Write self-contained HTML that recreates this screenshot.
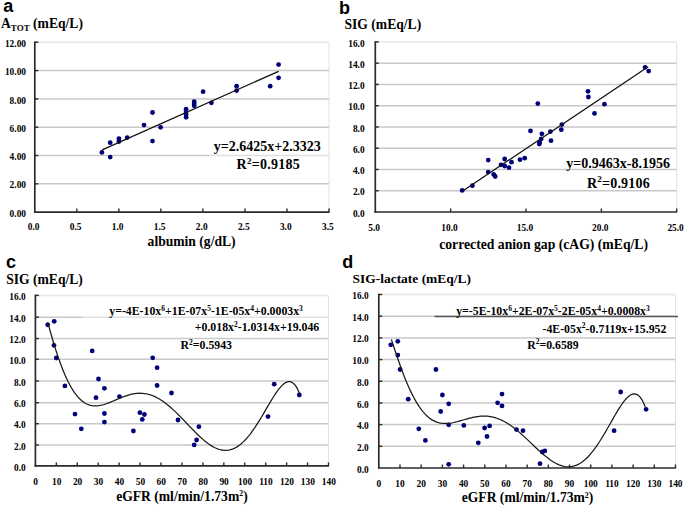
<!DOCTYPE html>
<html><head><meta charset="utf-8"><style>
html,body{margin:0;padding:0;background:#fff;width:685px;height:506px;overflow:hidden;}
svg{display:block;}
</style></head><body>
<svg width="685" height="506" viewBox="0 0 685 506">
<rect width="685" height="506" fill="#fff"/>
<line x1="329" y1="42.3" x2="329" y2="212.1" stroke="#e2e2e2" stroke-width="1"/>
<line x1="34.8" y1="183.8" x2="329" y2="183.8" stroke="#c9c9c9" stroke-width="1.5"/>
<line x1="34.8" y1="155.5" x2="209" y2="155.5" stroke="#c9c9c9" stroke-width="1.5"/>
<line x1="209" y1="155.5" x2="329" y2="155.5" stroke="#e0e0e0" stroke-width="1.5"/>
<line x1="34.8" y1="127.2" x2="329" y2="127.2" stroke="#c9c9c9" stroke-width="1.5"/>
<line x1="34.8" y1="98.9" x2="329" y2="98.9" stroke="#c9c9c9" stroke-width="1.5"/>
<line x1="34.8" y1="70.6" x2="329" y2="70.6" stroke="#c9c9c9" stroke-width="1.5"/>
<line x1="34.8" y1="42.3" x2="329" y2="42.3" stroke="#e6e6e6" stroke-width="1.5"/>
<line x1="34.8" y1="41.5" x2="34.8" y2="212.9" stroke="#2b2b2b" stroke-width="1.7"/>
<line x1="34.0" y1="212.1" x2="329.5" y2="212.1" stroke="#2b2b2b" stroke-width="1.7"/>
<line x1="34.8" y1="183.8" x2="38.3" y2="183.8" stroke="#2b2b2b" stroke-width="1.4"/>
<line x1="34.8" y1="155.5" x2="38.3" y2="155.5" stroke="#2b2b2b" stroke-width="1.4"/>
<line x1="34.8" y1="127.2" x2="38.3" y2="127.2" stroke="#2b2b2b" stroke-width="1.4"/>
<line x1="34.8" y1="98.9" x2="38.3" y2="98.9" stroke="#2b2b2b" stroke-width="1.4"/>
<line x1="34.8" y1="70.6" x2="38.3" y2="70.6" stroke="#2b2b2b" stroke-width="1.4"/>
<line x1="34.8" y1="42.3" x2="38.3" y2="42.3" stroke="#2b2b2b" stroke-width="1.4"/>
<line x1="76.83" y1="212.1" x2="76.83" y2="208.6" stroke="#2b2b2b" stroke-width="1.4"/>
<line x1="118.86" y1="212.1" x2="118.86" y2="208.6" stroke="#2b2b2b" stroke-width="1.4"/>
<line x1="160.89" y1="212.1" x2="160.89" y2="208.6" stroke="#2b2b2b" stroke-width="1.4"/>
<line x1="202.91" y1="212.1" x2="202.91" y2="208.6" stroke="#2b2b2b" stroke-width="1.4"/>
<line x1="244.94" y1="212.1" x2="244.94" y2="208.6" stroke="#2b2b2b" stroke-width="1.4"/>
<line x1="286.97" y1="212.1" x2="286.97" y2="208.6" stroke="#2b2b2b" stroke-width="1.4"/>
<line x1="329.0" y1="212.1" x2="329.0" y2="208.6" stroke="#2b2b2b" stroke-width="1.4"/>
<text x="26" y="216.7" font-size="9.4" text-anchor="end" font-family="'Liberation Serif', serif" font-weight="bold" fill="#000" >0.00</text>
<text x="26" y="188.4" font-size="9.4" text-anchor="end" font-family="'Liberation Serif', serif" font-weight="bold" fill="#000" >2.00</text>
<text x="26" y="160.1" font-size="9.4" text-anchor="end" font-family="'Liberation Serif', serif" font-weight="bold" fill="#000" >4.00</text>
<text x="26" y="131.8" font-size="9.4" text-anchor="end" font-family="'Liberation Serif', serif" font-weight="bold" fill="#000" >6.00</text>
<text x="26" y="103.5" font-size="9.4" text-anchor="end" font-family="'Liberation Serif', serif" font-weight="bold" fill="#000" >8.00</text>
<text x="26" y="75.2" font-size="9.4" text-anchor="end" font-family="'Liberation Serif', serif" font-weight="bold" fill="#000" >10.00</text>
<text x="26" y="46.9" font-size="9.4" text-anchor="end" font-family="'Liberation Serif', serif" font-weight="bold" fill="#000" >12.00</text>
<text x="33.6" y="229.8" font-size="9.4" text-anchor="middle" font-family="'Liberation Serif', serif" font-weight="bold" fill="#000" >0.0</text>
<text x="75.63" y="229.8" font-size="9.4" text-anchor="middle" font-family="'Liberation Serif', serif" font-weight="bold" fill="#000" >0.5</text>
<text x="117.66" y="229.8" font-size="9.4" text-anchor="middle" font-family="'Liberation Serif', serif" font-weight="bold" fill="#000" >1.0</text>
<text x="159.69" y="229.8" font-size="9.4" text-anchor="middle" font-family="'Liberation Serif', serif" font-weight="bold" fill="#000" >1.5</text>
<text x="201.71" y="229.8" font-size="9.4" text-anchor="middle" font-family="'Liberation Serif', serif" font-weight="bold" fill="#000" >2.0</text>
<text x="243.74" y="229.8" font-size="9.4" text-anchor="middle" font-family="'Liberation Serif', serif" font-weight="bold" fill="#000" >2.5</text>
<text x="285.77" y="229.8" font-size="9.4" text-anchor="middle" font-family="'Liberation Serif', serif" font-weight="bold" fill="#000" >3.0</text>
<text x="327.8" y="229.8" font-size="9.4" text-anchor="middle" font-family="'Liberation Serif', serif" font-weight="bold" fill="#000" >3.5</text>
<circle cx="101.9" cy="152.4" r="2.4" fill="#00007a"/>
<circle cx="110.2" cy="157.1" r="2.4" fill="#00007a"/>
<circle cx="110.2" cy="142.7" r="2.4" fill="#00007a"/>
<circle cx="118.9" cy="138.6" r="2.4" fill="#00007a"/>
<circle cx="118.9" cy="141.5" r="2.4" fill="#00007a"/>
<circle cx="127.2" cy="137.6" r="2.4" fill="#00007a"/>
<circle cx="144" cy="125.1" r="2.4" fill="#00007a"/>
<circle cx="152.5" cy="112.5" r="2.4" fill="#00007a"/>
<circle cx="152.5" cy="141.1" r="2.4" fill="#00007a"/>
<circle cx="160.6" cy="127.3" r="2.4" fill="#00007a"/>
<circle cx="186.1" cy="109.2" r="2.4" fill="#00007a"/>
<circle cx="186.1" cy="112" r="2.4" fill="#00007a"/>
<circle cx="186.1" cy="114.5" r="2.4" fill="#00007a"/>
<circle cx="186.1" cy="117.3" r="2.4" fill="#00007a"/>
<circle cx="194.2" cy="101.7" r="2.4" fill="#00007a"/>
<circle cx="194.2" cy="103.8" r="2.4" fill="#00007a"/>
<circle cx="194.2" cy="105.8" r="2.4" fill="#00007a"/>
<circle cx="203.1" cy="91.7" r="2.4" fill="#00007a"/>
<circle cx="211.4" cy="102.8" r="2.4" fill="#00007a"/>
<circle cx="236.6" cy="86.2" r="2.4" fill="#00007a"/>
<circle cx="236.6" cy="90.6" r="2.4" fill="#00007a"/>
<circle cx="270.2" cy="86.2" r="2.4" fill="#00007a"/>
<circle cx="278.6" cy="64.6" r="2.4" fill="#00007a"/>
<circle cx="278.6" cy="77.8" r="2.4" fill="#00007a"/>
<line x1="102.2" y1="149.8" x2="278.6" y2="71.3" stroke="#111" stroke-width="1.3"/>
<line x1="676.7" y1="41.9" x2="676.7" y2="212.0" stroke="#e2e2e2" stroke-width="1"/>
<line x1="375.3" y1="190.74" x2="676.7" y2="190.74" stroke="#c9c9c9" stroke-width="1.5"/>
<line x1="375.3" y1="169.47" x2="676.7" y2="169.47" stroke="#c9c9c9" stroke-width="1.5"/>
<line x1="375.3" y1="148.21" x2="676.7" y2="148.21" stroke="#c9c9c9" stroke-width="1.5"/>
<line x1="375.3" y1="126.95" x2="676.7" y2="126.95" stroke="#c9c9c9" stroke-width="1.5"/>
<line x1="375.3" y1="105.69" x2="676.7" y2="105.69" stroke="#c9c9c9" stroke-width="1.5"/>
<line x1="375.3" y1="84.43" x2="676.7" y2="84.43" stroke="#c9c9c9" stroke-width="1.5"/>
<line x1="375.3" y1="63.16" x2="676.7" y2="63.16" stroke="#c9c9c9" stroke-width="1.5"/>
<line x1="375.3" y1="41.9" x2="676.7" y2="41.9" stroke="#e6e6e6" stroke-width="1.5"/>
<line x1="375.3" y1="41.1" x2="375.3" y2="212.8" stroke="#2b2b2b" stroke-width="1.7"/>
<line x1="374.5" y1="212.0" x2="677.2" y2="212.0" stroke="#2b2b2b" stroke-width="1.7"/>
<line x1="375.3" y1="190.74" x2="378.8" y2="190.74" stroke="#2b2b2b" stroke-width="1.4"/>
<line x1="375.3" y1="169.47" x2="378.8" y2="169.47" stroke="#2b2b2b" stroke-width="1.4"/>
<line x1="375.3" y1="148.21" x2="378.8" y2="148.21" stroke="#2b2b2b" stroke-width="1.4"/>
<line x1="375.3" y1="126.95" x2="378.8" y2="126.95" stroke="#2b2b2b" stroke-width="1.4"/>
<line x1="375.3" y1="105.69" x2="378.8" y2="105.69" stroke="#2b2b2b" stroke-width="1.4"/>
<line x1="375.3" y1="84.43" x2="378.8" y2="84.43" stroke="#2b2b2b" stroke-width="1.4"/>
<line x1="375.3" y1="63.16" x2="378.8" y2="63.16" stroke="#2b2b2b" stroke-width="1.4"/>
<line x1="375.3" y1="41.9" x2="378.8" y2="41.9" stroke="#2b2b2b" stroke-width="1.4"/>
<line x1="450.65" y1="212.0" x2="450.65" y2="208.5" stroke="#2b2b2b" stroke-width="1.4"/>
<line x1="526.0" y1="212.0" x2="526.0" y2="208.5" stroke="#2b2b2b" stroke-width="1.4"/>
<line x1="601.35" y1="212.0" x2="601.35" y2="208.5" stroke="#2b2b2b" stroke-width="1.4"/>
<line x1="676.7" y1="212.0" x2="676.7" y2="208.5" stroke="#2b2b2b" stroke-width="1.4"/>
<text x="364.6" y="216.6" font-size="9.4" text-anchor="end" font-family="'Liberation Serif', serif" font-weight="bold" fill="#000" >0.0</text>
<text x="364.6" y="195.34" font-size="9.4" text-anchor="end" font-family="'Liberation Serif', serif" font-weight="bold" fill="#000" >2.0</text>
<text x="364.6" y="174.07" font-size="9.4" text-anchor="end" font-family="'Liberation Serif', serif" font-weight="bold" fill="#000" >4.0</text>
<text x="364.6" y="152.81" font-size="9.4" text-anchor="end" font-family="'Liberation Serif', serif" font-weight="bold" fill="#000" >6.0</text>
<text x="364.6" y="131.55" font-size="9.4" text-anchor="end" font-family="'Liberation Serif', serif" font-weight="bold" fill="#000" >8.0</text>
<text x="364.6" y="110.29" font-size="9.4" text-anchor="end" font-family="'Liberation Serif', serif" font-weight="bold" fill="#000" >10.0</text>
<text x="364.6" y="89.03" font-size="9.4" text-anchor="end" font-family="'Liberation Serif', serif" font-weight="bold" fill="#000" >12.0</text>
<text x="364.6" y="67.76" font-size="9.4" text-anchor="end" font-family="'Liberation Serif', serif" font-weight="bold" fill="#000" >14.0</text>
<text x="364.6" y="46.5" font-size="9.4" text-anchor="end" font-family="'Liberation Serif', serif" font-weight="bold" fill="#000" >16.0</text>
<text x="374.2" y="231.3" font-size="9.4" text-anchor="middle" font-family="'Liberation Serif', serif" font-weight="bold" fill="#000" >5.0</text>
<text x="449.55" y="231.3" font-size="9.4" text-anchor="middle" font-family="'Liberation Serif', serif" font-weight="bold" fill="#000" >10.0</text>
<text x="524.9" y="231.3" font-size="9.4" text-anchor="middle" font-family="'Liberation Serif', serif" font-weight="bold" fill="#000" >15.0</text>
<text x="600.25" y="231.3" font-size="9.4" text-anchor="middle" font-family="'Liberation Serif', serif" font-weight="bold" fill="#000" >20.0</text>
<text x="675.6" y="231.3" font-size="9.4" text-anchor="middle" font-family="'Liberation Serif', serif" font-weight="bold" fill="#000" >25.0</text>
<circle cx="462.2" cy="190.4" r="2.4" fill="#00007a"/>
<circle cx="472.4" cy="185.7" r="2.4" fill="#00007a"/>
<circle cx="488.2" cy="160.1" r="2.4" fill="#00007a"/>
<circle cx="488.2" cy="172.1" r="2.4" fill="#00007a"/>
<circle cx="493.7" cy="174.3" r="2.4" fill="#00007a"/>
<circle cx="495.2" cy="176.5" r="2.4" fill="#00007a"/>
<circle cx="501" cy="164.8" r="2.4" fill="#00007a"/>
<circle cx="504.7" cy="159" r="2.4" fill="#00007a"/>
<circle cx="504.7" cy="166" r="2.4" fill="#00007a"/>
<circle cx="509" cy="167.7" r="2.4" fill="#00007a"/>
<circle cx="511.5" cy="162.2" r="2.4" fill="#00007a"/>
<circle cx="520" cy="159.7" r="2.4" fill="#00007a"/>
<circle cx="524.7" cy="158.2" r="2.4" fill="#00007a"/>
<circle cx="537.8" cy="103.6" r="2.4" fill="#00007a"/>
<circle cx="530.5" cy="130.9" r="2.4" fill="#00007a"/>
<circle cx="541.9" cy="133.8" r="2.4" fill="#00007a"/>
<circle cx="541.2" cy="138.9" r="2.4" fill="#00007a"/>
<circle cx="539.7" cy="142.6" r="2.4" fill="#00007a"/>
<circle cx="539.3" cy="144" r="2.4" fill="#00007a"/>
<circle cx="550.4" cy="131.6" r="2.4" fill="#00007a"/>
<circle cx="551" cy="140.7" r="2.4" fill="#00007a"/>
<circle cx="561.9" cy="124.6" r="2.4" fill="#00007a"/>
<circle cx="561.3" cy="129.7" r="2.4" fill="#00007a"/>
<circle cx="588" cy="91.3" r="2.4" fill="#00007a"/>
<circle cx="588.4" cy="97" r="2.4" fill="#00007a"/>
<circle cx="604.4" cy="104.2" r="2.4" fill="#00007a"/>
<circle cx="594.5" cy="113.4" r="2.4" fill="#00007a"/>
<circle cx="645.1" cy="67.3" r="2.4" fill="#00007a"/>
<circle cx="648.7" cy="71.1" r="2.4" fill="#00007a"/>
<line x1="462.7" y1="191.0" x2="648.2" y2="66.8" stroke="#111" stroke-width="1.3"/>
<line x1="328.5" y1="295.4" x2="328.5" y2="465.9" stroke="#e2e2e2" stroke-width="1"/>
<line x1="35.4" y1="445.05" x2="328.5" y2="445.05" stroke="#c9c9c9" stroke-width="1.5"/>
<line x1="35.4" y1="423.7" x2="328.5" y2="423.7" stroke="#c9c9c9" stroke-width="1.5"/>
<line x1="35.4" y1="402.7" x2="328.5" y2="402.7" stroke="#c9c9c9" stroke-width="1.5"/>
<line x1="35.4" y1="381.0" x2="328.5" y2="381.0" stroke="#c9c9c9" stroke-width="1.5"/>
<line x1="35.4" y1="359.25" x2="328.5" y2="359.25" stroke="#c9c9c9" stroke-width="1.5"/>
<line x1="35.4" y1="338.55" x2="328.5" y2="338.55" stroke="#c9c9c9" stroke-width="1.5"/>
<line x1="35.4" y1="317.2" x2="82.8" y2="317.2" stroke="#c9c9c9" stroke-width="1.5"/>
<line x1="82.8" y1="317.2" x2="328.5" y2="317.2" stroke="#e0e0e0" stroke-width="1.5"/>
<line x1="35.4" y1="295.4" x2="328.5" y2="295.4" stroke="#e6e6e6" stroke-width="1.5"/>
<line x1="35.4" y1="294.6" x2="35.4" y2="466.7" stroke="#2b2b2b" stroke-width="1.7"/>
<line x1="34.6" y1="465.9" x2="329.0" y2="465.9" stroke="#2b2b2b" stroke-width="1.7"/>
<line x1="35.4" y1="445.05" x2="38.9" y2="445.05" stroke="#2b2b2b" stroke-width="1.4"/>
<line x1="35.4" y1="423.7" x2="38.9" y2="423.7" stroke="#2b2b2b" stroke-width="1.4"/>
<line x1="35.4" y1="402.7" x2="38.9" y2="402.7" stroke="#2b2b2b" stroke-width="1.4"/>
<line x1="35.4" y1="381.0" x2="38.9" y2="381.0" stroke="#2b2b2b" stroke-width="1.4"/>
<line x1="35.4" y1="359.25" x2="38.9" y2="359.25" stroke="#2b2b2b" stroke-width="1.4"/>
<line x1="35.4" y1="338.55" x2="38.9" y2="338.55" stroke="#2b2b2b" stroke-width="1.4"/>
<line x1="35.4" y1="317.2" x2="38.9" y2="317.2" stroke="#2b2b2b" stroke-width="1.4"/>
<line x1="35.4" y1="295.4" x2="38.9" y2="295.4" stroke="#2b2b2b" stroke-width="1.4"/>
<line x1="56.34" y1="465.9" x2="56.34" y2="462.4" stroke="#2b2b2b" stroke-width="1.4"/>
<line x1="77.27" y1="465.9" x2="77.27" y2="462.4" stroke="#2b2b2b" stroke-width="1.4"/>
<line x1="98.21" y1="465.9" x2="98.21" y2="462.4" stroke="#2b2b2b" stroke-width="1.4"/>
<line x1="119.14" y1="465.9" x2="119.14" y2="462.4" stroke="#2b2b2b" stroke-width="1.4"/>
<line x1="140.08" y1="465.9" x2="140.08" y2="462.4" stroke="#2b2b2b" stroke-width="1.4"/>
<line x1="161.01" y1="465.9" x2="161.01" y2="462.4" stroke="#2b2b2b" stroke-width="1.4"/>
<line x1="181.95" y1="465.9" x2="181.95" y2="462.4" stroke="#2b2b2b" stroke-width="1.4"/>
<line x1="202.89" y1="465.9" x2="202.89" y2="462.4" stroke="#2b2b2b" stroke-width="1.4"/>
<line x1="223.82" y1="465.9" x2="223.82" y2="462.4" stroke="#2b2b2b" stroke-width="1.4"/>
<line x1="244.76" y1="465.9" x2="244.76" y2="462.4" stroke="#2b2b2b" stroke-width="1.4"/>
<line x1="265.69" y1="465.9" x2="265.69" y2="462.4" stroke="#2b2b2b" stroke-width="1.4"/>
<line x1="286.63" y1="465.9" x2="286.63" y2="462.4" stroke="#2b2b2b" stroke-width="1.4"/>
<line x1="307.56" y1="465.9" x2="307.56" y2="462.4" stroke="#2b2b2b" stroke-width="1.4"/>
<line x1="328.5" y1="465.9" x2="328.5" y2="462.4" stroke="#2b2b2b" stroke-width="1.4"/>
<text x="25.7" y="470.5" font-size="9.4" text-anchor="end" font-family="'Liberation Serif', serif" font-weight="bold" fill="#000" >0.0</text>
<text x="25.7" y="449.65" font-size="9.4" text-anchor="end" font-family="'Liberation Serif', serif" font-weight="bold" fill="#000" >2.0</text>
<text x="25.7" y="428.3" font-size="9.4" text-anchor="end" font-family="'Liberation Serif', serif" font-weight="bold" fill="#000" >4.0</text>
<text x="25.7" y="407.3" font-size="9.4" text-anchor="end" font-family="'Liberation Serif', serif" font-weight="bold" fill="#000" >6.0</text>
<text x="25.7" y="385.6" font-size="9.4" text-anchor="end" font-family="'Liberation Serif', serif" font-weight="bold" fill="#000" >8.0</text>
<text x="25.7" y="363.85" font-size="9.4" text-anchor="end" font-family="'Liberation Serif', serif" font-weight="bold" fill="#000" >10.0</text>
<text x="25.7" y="343.15" font-size="9.4" text-anchor="end" font-family="'Liberation Serif', serif" font-weight="bold" fill="#000" >12.0</text>
<text x="25.7" y="321.8" font-size="9.4" text-anchor="end" font-family="'Liberation Serif', serif" font-weight="bold" fill="#000" >14.0</text>
<text x="25.7" y="300.0" font-size="9.4" text-anchor="end" font-family="'Liberation Serif', serif" font-weight="bold" fill="#000" >16.0</text>
<text x="35.7" y="484.8" font-size="9.4" text-anchor="middle" font-family="'Liberation Serif', serif" font-weight="bold" fill="#000" >0</text>
<text x="56.64" y="484.8" font-size="9.4" text-anchor="middle" font-family="'Liberation Serif', serif" font-weight="bold" fill="#000" >10</text>
<text x="77.57" y="484.8" font-size="9.4" text-anchor="middle" font-family="'Liberation Serif', serif" font-weight="bold" fill="#000" >20</text>
<text x="98.51" y="484.8" font-size="9.4" text-anchor="middle" font-family="'Liberation Serif', serif" font-weight="bold" fill="#000" >30</text>
<text x="119.44" y="484.8" font-size="9.4" text-anchor="middle" font-family="'Liberation Serif', serif" font-weight="bold" fill="#000" >40</text>
<text x="140.38" y="484.8" font-size="9.4" text-anchor="middle" font-family="'Liberation Serif', serif" font-weight="bold" fill="#000" >50</text>
<text x="161.31" y="484.8" font-size="9.4" text-anchor="middle" font-family="'Liberation Serif', serif" font-weight="bold" fill="#000" >60</text>
<text x="182.25" y="484.8" font-size="9.4" text-anchor="middle" font-family="'Liberation Serif', serif" font-weight="bold" fill="#000" >70</text>
<text x="203.19" y="484.8" font-size="9.4" text-anchor="middle" font-family="'Liberation Serif', serif" font-weight="bold" fill="#000" >80</text>
<text x="224.12" y="484.8" font-size="9.4" text-anchor="middle" font-family="'Liberation Serif', serif" font-weight="bold" fill="#000" >90</text>
<text x="245.06" y="484.8" font-size="9.4" text-anchor="middle" font-family="'Liberation Serif', serif" font-weight="bold" fill="#000" >100</text>
<text x="265.99" y="484.8" font-size="9.4" text-anchor="middle" font-family="'Liberation Serif', serif" font-weight="bold" fill="#000" >110</text>
<text x="286.93" y="484.8" font-size="9.4" text-anchor="middle" font-family="'Liberation Serif', serif" font-weight="bold" fill="#000" >120</text>
<text x="307.86" y="484.8" font-size="9.4" text-anchor="middle" font-family="'Liberation Serif', serif" font-weight="bold" fill="#000" >130</text>
<text x="328.8" y="484.8" font-size="9.4" text-anchor="middle" font-family="'Liberation Serif', serif" font-weight="bold" fill="#000" >140</text>
<circle cx="47.7" cy="324.8" r="2.4" fill="#00007a"/>
<circle cx="54.2" cy="321.3" r="2.4" fill="#00007a"/>
<circle cx="54" cy="345.3" r="2.4" fill="#00007a"/>
<circle cx="56.3" cy="358" r="2.4" fill="#00007a"/>
<circle cx="92.2" cy="350.9" r="2.4" fill="#00007a"/>
<circle cx="64.9" cy="385.9" r="2.4" fill="#00007a"/>
<circle cx="98.5" cy="379" r="2.4" fill="#00007a"/>
<circle cx="104.4" cy="388.3" r="2.4" fill="#00007a"/>
<circle cx="96" cy="397.7" r="2.4" fill="#00007a"/>
<circle cx="119.5" cy="396.6" r="2.4" fill="#00007a"/>
<circle cx="75" cy="414.1" r="2.4" fill="#00007a"/>
<circle cx="104.4" cy="413.5" r="2.4" fill="#00007a"/>
<circle cx="104.4" cy="422.1" r="2.4" fill="#00007a"/>
<circle cx="81.3" cy="428.8" r="2.4" fill="#00007a"/>
<circle cx="133.4" cy="431" r="2.4" fill="#00007a"/>
<circle cx="152.7" cy="357.8" r="2.4" fill="#00007a"/>
<circle cx="157.1" cy="367.7" r="2.4" fill="#00007a"/>
<circle cx="157.1" cy="385.5" r="2.4" fill="#00007a"/>
<circle cx="171.5" cy="393" r="2.4" fill="#00007a"/>
<circle cx="139.9" cy="412.7" r="2.4" fill="#00007a"/>
<circle cx="144.4" cy="414.5" r="2.4" fill="#00007a"/>
<circle cx="142.3" cy="419.4" r="2.4" fill="#00007a"/>
<circle cx="178" cy="420" r="2.4" fill="#00007a"/>
<circle cx="198.9" cy="426.7" r="2.4" fill="#00007a"/>
<circle cx="196.6" cy="440" r="2.4" fill="#00007a"/>
<circle cx="194.2" cy="444.9" r="2.4" fill="#00007a"/>
<circle cx="268" cy="416.6" r="2.4" fill="#00007a"/>
<circle cx="274.2" cy="384.2" r="2.4" fill="#00007a"/>
<circle cx="299.3" cy="395" r="2.4" fill="#00007a"/>
<path d="M47.70,322.08 L49.28,327.86 L50.87,333.50 L52.45,338.97 L54.03,344.25 L55.62,349.33 L57.20,354.21 L58.79,358.88 L60.37,363.32 L61.95,367.53 L63.54,371.51 L65.12,375.25 L66.70,378.76 L68.29,382.03 L69.87,385.07 L71.45,387.87 L73.04,390.45 L74.62,392.80 L76.21,394.93 L77.79,396.85 L79.37,398.55 L80.96,400.06 L82.54,401.38 L84.12,402.50 L85.71,403.45 L87.29,404.23 L88.87,404.85 L90.46,405.32 L92.04,405.65 L93.63,405.84 L95.21,405.91 L96.79,405.87 L98.38,405.73 L99.96,405.48 L101.54,405.16 L103.13,404.76 L104.71,404.29 L106.29,403.77 L107.88,403.20 L109.46,402.59 L111.05,401.94 L112.63,401.28 L114.21,400.60 L115.80,399.92 L117.38,399.23 L118.96,398.56 L120.55,397.90 L122.13,397.26 L123.72,396.65 L125.30,396.08 L126.88,395.54 L128.47,395.05 L130.05,394.61 L131.63,394.23 L133.22,393.90 L134.80,393.63 L136.38,393.43 L137.97,393.30 L139.55,393.24 L141.14,393.25 L142.72,393.34 L144.30,393.51 L145.89,393.75 L147.47,394.08 L149.05,394.48 L150.64,394.96 L152.22,395.52 L153.80,396.16 L155.39,396.88 L156.97,397.68 L158.56,398.55 L160.14,399.49 L161.72,400.50 L163.31,401.59 L164.89,402.74 L166.47,403.95 L168.06,405.23 L169.64,406.56 L171.22,407.94 L172.81,409.37 L174.39,410.85 L175.98,412.37 L177.56,413.92 L179.14,415.50 L180.73,417.11 L182.31,418.75 L183.89,420.39 L185.48,422.05 L187.06,423.72 L188.64,425.38 L190.23,427.04 L191.81,428.68 L193.40,430.31 L194.98,431.92 L196.56,433.49 L198.15,435.03 L199.73,436.53 L201.31,437.98 L202.90,439.38 L204.48,440.73 L206.06,442.00 L207.65,443.21 L209.23,444.34 L210.82,445.39 L212.40,446.35 L213.98,447.22 L215.57,447.99 L217.15,448.67 L218.73,449.23 L220.32,449.68 L221.90,450.02 L223.48,450.24 L225.07,450.34 L226.65,450.31 L228.24,450.15 L229.82,449.86 L231.40,449.44 L232.99,448.88 L234.57,448.19 L236.15,447.35 L237.74,446.38 L239.32,445.27 L240.91,444.03 L242.49,442.65 L244.07,441.13 L245.66,439.48 L247.24,437.71 L248.82,435.81 L250.41,433.80 L251.99,431.67 L253.57,429.44 L255.16,427.11 L256.74,424.68 L258.33,422.18 L259.91,419.61 L261.49,416.98 L263.08,414.31 L264.66,411.61 L266.24,408.89 L267.83,406.18 L269.41,403.48 L270.99,400.83 L272.58,398.24 L274.16,395.73 L275.75,393.33 L277.33,391.07 L278.91,388.97 L280.50,387.06 L282.08,385.39 L283.66,383.97 L285.25,382.85 L286.83,382.07 L288.41,381.66 L290.00,381.68 L291.58,382.16 L293.17,383.16 L294.75,384.73 L296.33,386.92 L297.92,389.80 L299.50,393.41" fill="none" stroke="#1a1a1a" stroke-width="1.25"/>
<line x1="675.5" y1="294.5" x2="675.5" y2="468.0" stroke="#e2e2e2" stroke-width="1"/>
<line x1="378.8" y1="446.31" x2="675.5" y2="446.31" stroke="#c9c9c9" stroke-width="1.5"/>
<line x1="378.8" y1="424.62" x2="675.5" y2="424.62" stroke="#c9c9c9" stroke-width="1.5"/>
<line x1="378.8" y1="402.94" x2="675.5" y2="402.94" stroke="#c9c9c9" stroke-width="1.5"/>
<line x1="378.8" y1="381.25" x2="675.5" y2="381.25" stroke="#c9c9c9" stroke-width="1.5"/>
<line x1="378.8" y1="359.56" x2="675.5" y2="359.56" stroke="#c9c9c9" stroke-width="1.5"/>
<line x1="378.8" y1="337.88" x2="675.5" y2="337.88" stroke="#c9c9c9" stroke-width="1.5"/>
<line x1="378.8" y1="316.19" x2="675.5" y2="316.19" stroke="#c9c9c9" stroke-width="1.5"/>
<line x1="378.8" y1="294.5" x2="675.5" y2="294.5" stroke="#e6e6e6" stroke-width="1.5"/>
<line x1="378.8" y1="293.7" x2="378.8" y2="468.8" stroke="#2b2b2b" stroke-width="1.7"/>
<line x1="378.0" y1="468.0" x2="676.0" y2="468.0" stroke="#2b2b2b" stroke-width="1.7"/>
<line x1="378.8" y1="446.31" x2="382.3" y2="446.31" stroke="#2b2b2b" stroke-width="1.4"/>
<line x1="378.8" y1="424.62" x2="382.3" y2="424.62" stroke="#2b2b2b" stroke-width="1.4"/>
<line x1="378.8" y1="402.94" x2="382.3" y2="402.94" stroke="#2b2b2b" stroke-width="1.4"/>
<line x1="378.8" y1="381.25" x2="382.3" y2="381.25" stroke="#2b2b2b" stroke-width="1.4"/>
<line x1="378.8" y1="359.56" x2="382.3" y2="359.56" stroke="#2b2b2b" stroke-width="1.4"/>
<line x1="378.8" y1="337.88" x2="382.3" y2="337.88" stroke="#2b2b2b" stroke-width="1.4"/>
<line x1="378.8" y1="316.19" x2="382.3" y2="316.19" stroke="#2b2b2b" stroke-width="1.4"/>
<line x1="378.8" y1="294.5" x2="382.3" y2="294.5" stroke="#2b2b2b" stroke-width="1.4"/>
<line x1="399.99" y1="468.0" x2="399.99" y2="464.5" stroke="#2b2b2b" stroke-width="1.4"/>
<line x1="421.19" y1="468.0" x2="421.19" y2="464.5" stroke="#2b2b2b" stroke-width="1.4"/>
<line x1="442.38" y1="468.0" x2="442.38" y2="464.5" stroke="#2b2b2b" stroke-width="1.4"/>
<line x1="463.57" y1="468.0" x2="463.57" y2="464.5" stroke="#2b2b2b" stroke-width="1.4"/>
<line x1="484.76" y1="468.0" x2="484.76" y2="464.5" stroke="#2b2b2b" stroke-width="1.4"/>
<line x1="505.96" y1="468.0" x2="505.96" y2="464.5" stroke="#2b2b2b" stroke-width="1.4"/>
<line x1="527.15" y1="468.0" x2="527.15" y2="464.5" stroke="#2b2b2b" stroke-width="1.4"/>
<line x1="548.34" y1="468.0" x2="548.34" y2="464.5" stroke="#2b2b2b" stroke-width="1.4"/>
<line x1="569.54" y1="468.0" x2="569.54" y2="464.5" stroke="#2b2b2b" stroke-width="1.4"/>
<line x1="590.73" y1="468.0" x2="590.73" y2="464.5" stroke="#2b2b2b" stroke-width="1.4"/>
<line x1="611.92" y1="468.0" x2="611.92" y2="464.5" stroke="#2b2b2b" stroke-width="1.4"/>
<line x1="633.11" y1="468.0" x2="633.11" y2="464.5" stroke="#2b2b2b" stroke-width="1.4"/>
<line x1="654.31" y1="468.0" x2="654.31" y2="464.5" stroke="#2b2b2b" stroke-width="1.4"/>
<line x1="675.5" y1="468.0" x2="675.5" y2="464.5" stroke="#2b2b2b" stroke-width="1.4"/>
<text x="368.7" y="472.6" font-size="9.4" text-anchor="end" font-family="'Liberation Serif', serif" font-weight="bold" fill="#000" >0.0</text>
<text x="368.7" y="450.91" font-size="9.4" text-anchor="end" font-family="'Liberation Serif', serif" font-weight="bold" fill="#000" >2.0</text>
<text x="368.7" y="429.23" font-size="9.4" text-anchor="end" font-family="'Liberation Serif', serif" font-weight="bold" fill="#000" >4.0</text>
<text x="368.7" y="407.54" font-size="9.4" text-anchor="end" font-family="'Liberation Serif', serif" font-weight="bold" fill="#000" >6.0</text>
<text x="368.7" y="385.85" font-size="9.4" text-anchor="end" font-family="'Liberation Serif', serif" font-weight="bold" fill="#000" >8.0</text>
<text x="368.7" y="364.16" font-size="9.4" text-anchor="end" font-family="'Liberation Serif', serif" font-weight="bold" fill="#000" >10.0</text>
<text x="368.7" y="342.48" font-size="9.4" text-anchor="end" font-family="'Liberation Serif', serif" font-weight="bold" fill="#000" >12.0</text>
<text x="368.7" y="320.79" font-size="9.4" text-anchor="end" font-family="'Liberation Serif', serif" font-weight="bold" fill="#000" >14.0</text>
<text x="368.7" y="299.1" font-size="9.4" text-anchor="end" font-family="'Liberation Serif', serif" font-weight="bold" fill="#000" >16.0</text>
<text x="378.8" y="487.0" font-size="9.4" text-anchor="middle" font-family="'Liberation Serif', serif" font-weight="bold" fill="#000" >0</text>
<text x="399.99" y="487.0" font-size="9.4" text-anchor="middle" font-family="'Liberation Serif', serif" font-weight="bold" fill="#000" >10</text>
<text x="421.19" y="487.0" font-size="9.4" text-anchor="middle" font-family="'Liberation Serif', serif" font-weight="bold" fill="#000" >20</text>
<text x="442.38" y="487.0" font-size="9.4" text-anchor="middle" font-family="'Liberation Serif', serif" font-weight="bold" fill="#000" >30</text>
<text x="463.57" y="487.0" font-size="9.4" text-anchor="middle" font-family="'Liberation Serif', serif" font-weight="bold" fill="#000" >40</text>
<text x="484.76" y="487.0" font-size="9.4" text-anchor="middle" font-family="'Liberation Serif', serif" font-weight="bold" fill="#000" >50</text>
<text x="505.96" y="487.0" font-size="9.4" text-anchor="middle" font-family="'Liberation Serif', serif" font-weight="bold" fill="#000" >60</text>
<text x="527.15" y="487.0" font-size="9.4" text-anchor="middle" font-family="'Liberation Serif', serif" font-weight="bold" fill="#000" >70</text>
<text x="548.34" y="487.0" font-size="9.4" text-anchor="middle" font-family="'Liberation Serif', serif" font-weight="bold" fill="#000" >80</text>
<text x="569.54" y="487.0" font-size="9.4" text-anchor="middle" font-family="'Liberation Serif', serif" font-weight="bold" fill="#000" >90</text>
<text x="590.73" y="487.0" font-size="9.4" text-anchor="middle" font-family="'Liberation Serif', serif" font-weight="bold" fill="#000" >100</text>
<text x="611.92" y="487.0" font-size="9.4" text-anchor="middle" font-family="'Liberation Serif', serif" font-weight="bold" fill="#000" >110</text>
<text x="633.11" y="487.0" font-size="9.4" text-anchor="middle" font-family="'Liberation Serif', serif" font-weight="bold" fill="#000" >120</text>
<text x="654.31" y="487.0" font-size="9.4" text-anchor="middle" font-family="'Liberation Serif', serif" font-weight="bold" fill="#000" >130</text>
<text x="675.5" y="487.0" font-size="9.4" text-anchor="middle" font-family="'Liberation Serif', serif" font-weight="bold" fill="#000" >140</text>
<line x1="434.5" y1="316.6" x2="678" y2="316.6" stroke="#555" stroke-width="1.5"/>
<circle cx="390.8" cy="344.8" r="2.4" fill="#00007a"/>
<circle cx="397.8" cy="341.3" r="2.4" fill="#00007a"/>
<circle cx="397.8" cy="355.1" r="2.4" fill="#00007a"/>
<circle cx="400.1" cy="369.5" r="2.4" fill="#00007a"/>
<circle cx="435.9" cy="369.5" r="2.4" fill="#00007a"/>
<circle cx="408.2" cy="399.2" r="2.4" fill="#00007a"/>
<circle cx="442.4" cy="395" r="2.4" fill="#00007a"/>
<circle cx="448.7" cy="403.8" r="2.4" fill="#00007a"/>
<circle cx="440.7" cy="411.5" r="2.4" fill="#00007a"/>
<circle cx="448.7" cy="424.8" r="2.4" fill="#00007a"/>
<circle cx="463.8" cy="425.4" r="2.4" fill="#00007a"/>
<circle cx="418.8" cy="428.8" r="2.4" fill="#00007a"/>
<circle cx="425.4" cy="440.4" r="2.4" fill="#00007a"/>
<circle cx="448.7" cy="464.3" r="2.4" fill="#00007a"/>
<circle cx="484.6" cy="428" r="2.4" fill="#00007a"/>
<circle cx="489.6" cy="425.9" r="2.4" fill="#00007a"/>
<circle cx="487" cy="436.5" r="2.4" fill="#00007a"/>
<circle cx="478.3" cy="442.8" r="2.4" fill="#00007a"/>
<circle cx="502" cy="394.1" r="2.4" fill="#00007a"/>
<circle cx="497.6" cy="402.8" r="2.4" fill="#00007a"/>
<circle cx="502" cy="405.9" r="2.4" fill="#00007a"/>
<circle cx="516.5" cy="429.6" r="2.4" fill="#00007a"/>
<circle cx="523" cy="430.7" r="2.4" fill="#00007a"/>
<circle cx="542.2" cy="452" r="2.4" fill="#00007a"/>
<circle cx="544.8" cy="450.9" r="2.4" fill="#00007a"/>
<circle cx="540" cy="463.7" r="2.4" fill="#00007a"/>
<circle cx="620.7" cy="392" r="2.4" fill="#00007a"/>
<circle cx="646.1" cy="409.3" r="2.4" fill="#00007a"/>
<circle cx="614.1" cy="430.7" r="2.4" fill="#00007a"/>
<path d="M391.40,339.45 L393.00,344.36 L394.59,349.22 L396.19,354.00 L397.79,358.69 L399.38,363.27 L400.98,367.72 L402.58,372.03 L404.17,376.18 L405.77,380.18 L407.37,384.01 L408.97,387.66 L410.56,391.13 L412.16,394.41 L413.76,397.51 L415.35,400.41 L416.95,403.13 L418.55,405.66 L420.14,407.99 L421.74,410.15 L423.34,412.11 L424.93,413.90 L426.53,415.52 L428.13,416.96 L429.72,418.24 L431.32,419.36 L432.92,420.33 L434.52,421.16 L436.11,421.85 L437.71,422.40 L439.31,422.84 L440.90,423.15 L442.50,423.36 L444.10,423.47 L445.69,423.49 L447.29,423.43 L448.89,423.29 L450.48,423.09 L452.08,422.82 L453.68,422.51 L455.27,422.15 L456.87,421.76 L458.47,421.34 L460.06,420.89 L461.66,420.44 L463.26,419.98 L464.86,419.52 L466.45,419.07 L468.05,418.63 L469.65,418.21 L471.24,417.81 L472.84,417.44 L474.44,417.11 L476.03,416.82 L477.63,416.58 L479.23,416.38 L480.82,416.23 L482.42,416.14 L484.02,416.11 L485.61,416.14 L487.21,416.23 L488.81,416.39 L490.41,416.62 L492.00,416.92 L493.60,417.28 L495.20,417.72 L496.79,418.22 L498.39,418.80 L499.99,419.45 L501.58,420.17 L503.18,420.95 L504.78,421.81 L506.37,422.73 L507.97,423.71 L509.57,424.75 L511.16,425.85 L512.76,427.01 L514.36,428.22 L515.95,429.49 L517.55,430.79 L519.15,432.14 L520.75,433.53 L522.34,434.95 L523.94,436.40 L525.54,437.88 L527.13,439.37 L528.73,440.88 L530.33,442.40 L531.92,443.92 L533.52,445.44 L535.12,446.95 L536.71,448.45 L538.31,449.93 L539.91,451.39 L541.50,452.82 L543.10,454.21 L544.70,455.56 L546.29,456.86 L547.89,458.10 L549.49,459.29 L551.09,460.41 L552.68,461.46 L554.28,462.43 L555.88,463.31 L557.47,464.11 L559.07,464.82 L560.67,465.42 L562.26,465.93 L563.86,466.32 L565.46,466.60 L567.05,466.76 L568.65,466.81 L570.25,466.72 L571.84,466.51 L573.44,466.17 L575.04,465.70 L576.64,465.09 L578.23,464.34 L579.83,463.46 L581.43,462.43 L583.02,461.27 L584.62,459.97 L586.22,458.54 L587.81,456.97 L589.41,455.26 L591.01,453.43 L592.60,451.47 L594.20,449.39 L595.80,447.20 L597.39,444.90 L598.99,442.50 L600.59,440.00 L602.18,437.43 L603.78,434.77 L605.38,432.06 L606.98,429.30 L608.57,426.51 L610.17,423.69 L611.77,420.87 L613.36,418.07 L614.96,415.30 L616.56,412.58 L618.15,409.94 L619.75,407.40 L621.35,404.99 L622.94,402.72 L624.54,400.64 L626.14,398.78 L627.73,397.15 L629.33,395.81 L630.93,394.79 L632.53,394.11 L634.12,393.84 L635.72,394.01 L637.32,394.66 L638.91,395.85 L640.51,397.62 L642.11,400.03 L643.70,403.14 L645.30,407.00" fill="none" stroke="#1a1a1a" stroke-width="1.25"/>
<text x="3.3" y="11.9" font-size="18" text-anchor="start" font-family="'Liberation Sans', sans-serif" font-weight="bold" fill="#000" >a</text>
<text x="339" y="13.7" font-size="18" text-anchor="start" font-family="'Liberation Sans', sans-serif" font-weight="bold" fill="#000" >b</text>
<text x="5.9" y="267.9" font-size="18" text-anchor="start" font-family="'Liberation Sans', sans-serif" font-weight="bold" fill="#000" >c</text>
<text x="342.2" y="267.9" font-size="18" text-anchor="start" font-family="'Liberation Sans', sans-serif" font-weight="bold" fill="#000" >d</text>
<text x="1" y="27.6" font-size="13.6" font-family="'Liberation Serif', serif" font-weight="bold">A<tspan font-size="9" dy="3.5">TOT</tspan><tspan dy="-3.5"> (mEq/L)</tspan></text>
<text x="344.5" y="29.4" font-size="13.6" text-anchor="start" font-family="'Liberation Serif', serif" font-weight="bold" fill="#000" >SIG (mEq/L)</text>
<text x="6.2" y="284" font-size="13.6" text-anchor="start" font-family="'Liberation Serif', serif" font-weight="bold" fill="#000" >SIG (mEq/L)</text>
<text x="352.6" y="283.2" font-size="13.45" text-anchor="start" font-family="'Liberation Serif', serif" font-weight="bold" fill="#000" >SIG-lactate (mEq/L)</text>
<text x="191.6" y="245.7" font-size="13.6" text-anchor="middle" font-family="'Liberation Serif', serif" font-weight="bold" fill="#000" >albumin (g/dL)</text>
<text x="543.6" y="248.9" font-size="13.7" text-anchor="middle" font-family="'Liberation Serif', serif" font-weight="bold" fill="#000" >corrected anion gap (cAG) (mEq/L)</text>
<text x="181.9" y="500.7" font-size="13.6" text-anchor="middle" font-family="'Liberation Serif', serif" font-weight="bold">eGFR (ml/min/1.73m<tspan font-size="7.8" dy="-4.3">2</tspan><tspan dy="4.3">)</tspan></text>
<text x="527.5" y="501.8" font-size="13.6" text-anchor="middle" font-family="'Liberation Serif', serif" font-weight="bold">eGFR (ml/min/1.73m<tspan font-size="7.8" dy="-4.3">2</tspan><tspan dy="4.3">)</tspan></text>
<text x="213.8" y="150.6" font-size="14.0" text-anchor="start" font-family="'Liberation Serif', serif" font-weight="bold" letter-spacing="0"><tspan>y=2.6425x+2.3323</tspan></text>
<text x="236.6" y="169.3" font-size="14.0" text-anchor="start" font-family="'Liberation Serif', serif" font-weight="bold" letter-spacing="0.25"><tspan>R</tspan><tspan font-size="8.96" dy="-5.32">2</tspan><tspan dy="5.32">=0.9185</tspan></text>
<text x="566.3" y="168.0" font-size="14.0" text-anchor="start" font-family="'Liberation Serif', serif" font-weight="bold" letter-spacing="0"><tspan>y=0.9463x-8.1956</tspan></text>
<text x="587" y="187.8" font-size="14.0" text-anchor="start" font-family="'Liberation Serif', serif" font-weight="bold" letter-spacing="0.2"><tspan>R</tspan><tspan font-size="8.96" dy="-5.32">2</tspan><tspan dy="5.32">=0.9106</tspan></text>
<text x="109.3" y="315.2" font-size="11.8" text-anchor="start" font-family="'Liberation Serif', serif" font-weight="bold" letter-spacing="0"><tspan>y=-4E-10x</tspan><tspan font-size="7.55" dy="-4.48">6</tspan><tspan dy="4.48">+1E-07x</tspan><tspan font-size="7.55" dy="-4.48">5</tspan><tspan dy="4.48">-1E-05x</tspan><tspan font-size="7.55" dy="-4.48">4</tspan><tspan dy="4.48">+0.0003x</tspan><tspan font-size="7.55" dy="-4.48">3</tspan></text>
<text x="194.8" y="331.3" font-size="11.8" text-anchor="start" font-family="'Liberation Serif', serif" font-weight="bold" letter-spacing="0"><tspan>+0.018x</tspan><tspan font-size="7.55" dy="-4.48">2</tspan><tspan dy="4.48">-1.0314x+19.046</tspan></text>
<text x="180.5" y="349.3" font-size="11.8" text-anchor="start" font-family="'Liberation Serif', serif" font-weight="bold" letter-spacing="0"><tspan>R</tspan><tspan font-size="7.55" dy="-4.48">2</tspan><tspan dy="4.48">=0.5943</tspan></text>
<text x="456.2" y="315.3" font-size="11.8" text-anchor="start" font-family="'Liberation Serif', serif" font-weight="bold" letter-spacing="0"><tspan>y=-5E-10x</tspan><tspan font-size="7.55" dy="-4.48">6</tspan><tspan dy="4.48">+2E-07x</tspan><tspan font-size="7.55" dy="-4.48">5</tspan><tspan dy="4.48">-2E-05x</tspan><tspan font-size="7.55" dy="-4.48">4</tspan><tspan dy="4.48">+0.0008x</tspan><tspan font-size="7.55" dy="-4.48">3</tspan></text>
<text x="542.5" y="332.7" font-size="11.8" text-anchor="start" font-family="'Liberation Serif', serif" font-weight="bold" letter-spacing="0"><tspan>-4E-05x</tspan><tspan font-size="7.55" dy="-4.48">2</tspan><tspan dy="4.48">-0.7119x+15.952</tspan></text>
<text x="527.2" y="348.6" font-size="11.8" text-anchor="start" font-family="'Liberation Serif', serif" font-weight="bold" letter-spacing="0"><tspan>R</tspan><tspan font-size="7.55" dy="-4.48">2</tspan><tspan dy="4.48">=0.6589</tspan></text>
</svg>
</body></html>
